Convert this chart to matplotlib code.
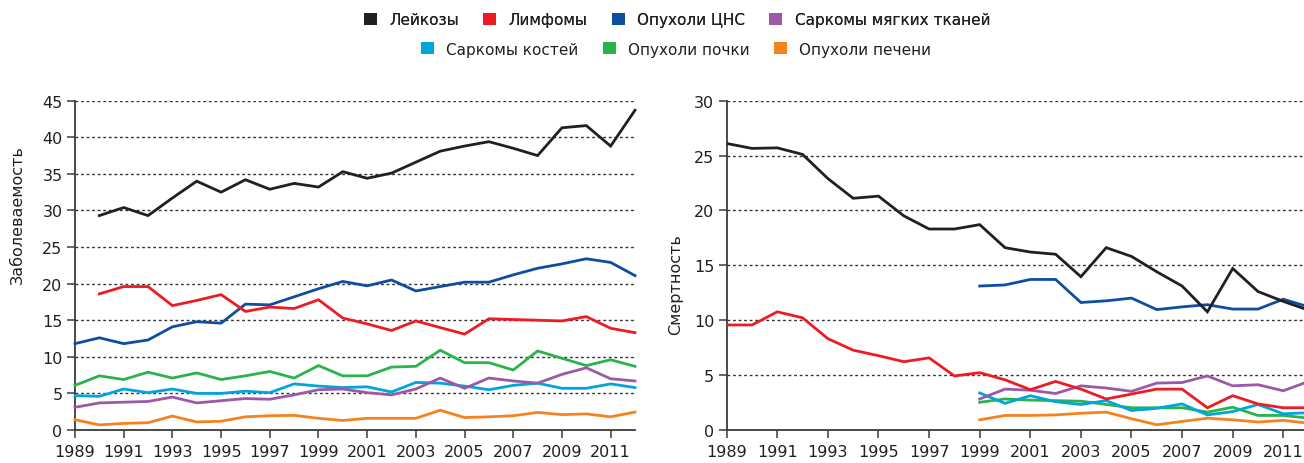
import numpy as np
import matplotlib
matplotlib.use("Agg")
import matplotlib.pyplot as plt
from matplotlib.patches import Patch

nan = np.nan
years = list(range(1989, 2013))
xtick_labels = list(range(1989, 2012, 2))

series_names = ["Лейкозы", "Лимфомы", "Опухоли ЦНС", "Саркомы мягких тканей",
                "Саркомы костей", "Опухоли почки", "Опухоли печени"]
colors = ["#231f20", "#ed1c24", "#0d4ea0", "#9b59a8", "#00a6db", "#2ab24b", "#f5821f"]

# Incidence (left)
leuk_inc = [nan, 29.3, 30.4, 29.3, 31.7, 34.0, 32.5, 34.2, 32.9, 33.7, 33.2, 35.3,
            34.4, 35.1, 36.6, 38.1, 38.8, 39.4, 38.5, 37.5, 41.3, 41.6, 38.8, 43.7]
lymph_inc = [nan, 18.6, 19.6, 19.6, 17.0, 17.7, 18.5, 16.2, 16.8, 16.6, 17.8, 15.3,
             14.5, 13.6, 14.9, 14.0, 13.1, 15.2, 15.1, 15.0, 14.9, 15.5, 13.9, 13.3]
cns_inc = [11.8, 12.6, 11.8, 12.3, 14.1, 14.8, 14.6, 17.2, 17.1, 18.2, 19.3, 20.3,
           19.7, 20.5, 19.0, 19.6, 20.2, 20.2, 21.2, 22.1, 22.7, 23.4, 22.9, 21.1]
sts_inc = [3.1, 3.7, 3.8, 3.9, 4.5, 3.7, 4.0, 4.3, 4.2, 4.8, 5.5, 5.6,
           5.1, 4.8, 5.6, 7.1, 5.7, 7.1, 6.7, 6.4, 7.6, 8.5, 7.0, 6.7]
bone_inc = [4.7, 4.6, 5.6, 5.1, 5.6, 5.0, 5.0, 5.3, 5.1, 6.3, 6.0, 5.8,
            5.9, 5.2, 6.5, 6.4, 6.0, 5.5, 6.1, 6.4, 5.7, 5.7, 6.3, 5.8]
kid_inc = [6.1, 7.4, 6.9, 7.9, 7.1, 7.8, 6.9, 7.4, 8.0, 7.1, 8.8, 7.4,
           7.4, 8.6, 8.7, 10.9, 9.2, 9.2, 8.2, 10.8, 9.8, 8.8, 9.6, 8.7]
liver_inc = [1.4, 0.7, 0.9, 1.0, 1.9, 1.1, 1.2, 1.8, 1.95, 2.0, 1.6, 1.3,
             1.6, 1.6, 1.6, 2.7, 1.7, 1.8, 1.95, 2.4, 2.1, 2.2, 1.8, 2.45]

# Mortality (right)
leuk_mort = [26.1, 25.65, 25.7, 25.1, 22.9, 21.1, 21.3, 19.5, 18.3, 18.3, 18.7, 16.6,
             16.2, 16.0, 13.95, 16.6, 15.8, 14.4, 13.1, 10.75, 14.7, 12.6, 11.7, 10.9]
lymph_mort = [9.55, 9.55, 10.75, 10.2, 8.3, 7.25, 6.75, 6.2, 6.55, 4.9, 5.2, 4.55,
              3.65, 4.4, 3.7, 2.8, 3.25, 3.7, 3.7, 2.0, 3.1, 2.35, 2.0, 2.0]
cns_mort = [nan] * 10 + [13.1, 13.2, 13.7, 13.7, 11.6, 11.75, 12.0, 10.95, 11.2, 11.4, 11.0, 11.0, 11.9, 11.2]
sts_mort = [nan] * 10 + [2.8, 3.7, 3.6, 3.3, 4.0, 3.8, 3.5, 4.25, 4.3, 4.9, 4.0, 4.1, 3.55, 4.4]
bone_mort = [nan] * 10 + [3.35, 2.4, 3.1, 2.55, 2.3, 2.65, 1.75, 1.95, 2.35, 1.35, 1.65, 2.3, 1.45, 1.55]
kid_mort = [nan] * 10 + [2.5, 2.8, 2.7, 2.65, 2.6, 2.3, 2.0, 2.0, 2.0, 1.6, 2.05, 1.3, 1.3, 1.05]
liver_mort = [nan] * 10 + [0.9, 1.3, 1.3, 1.35, 1.5, 1.6, 1.0, 0.45, 0.75, 1.05, 0.9, 0.7, 0.85, 0.6]

inc_series = [leuk_inc, lymph_inc, cns_inc, sts_inc, bone_inc, kid_inc, liver_inc]
mort_series = [leuk_mort, lymph_mort, cns_mort, sts_mort, bone_mort, kid_mort, liver_mort]

plt.rcParams['font.family'] = ['DejaVu Sans']
text_color = "#231f20"

fig = plt.figure(figsize=(13.04, 4.64), dpi=100)
W, H = 1304.0, 464.0

ax1 = fig.add_axes([75 / W, (H - 431) / H, 560 / W, (431 - 101.7) / H])
ax2 = fig.add_axes([726.7 / W, (H - 430.7) / H, (1308.6 - 726.7) / W, (430.7 - 101.7) / H])


def style(ax, ymax, ystep):
    ax.set_xlim(1989, 2012)
    ax.set_ylim(0, ymax)
    ax.set_yticks(np.arange(0, ymax + 0.1, ystep))
    ax.set_xticks(xtick_labels)
    ax.set_xticklabels([str(y) for y in xtick_labels])
    for s in ["top", "right"]:
        ax.spines[s].set_visible(False)
    for s in ["left", "bottom"]:
        ax.spines[s].set_color("#3a3a3a")
        ax.spines[s].set_linewidth(1.3)
    ax.tick_params(axis="both", direction="out", length=6, width=1.1, color="#3a3a3a",
                   labelsize=11.5, labelcolor=text_color)
    ax.tick_params(axis="x", pad=4)
    ax.tick_params(axis="y", pad=3)
    for yv in np.arange(ystep, ymax + 0.1, ystep):
        ax.axhline(yv, color="#333333", lw=1.0, ls=(0, (2, 2)), zorder=1)


for i in range(6, -1, -1):
    ax1.plot(years, inc_series[i], color=colors[i], lw=2.0, zorder=3 + (6 - i) * 0.1,
             solid_joinstyle="miter", clip_on=False)
    ax2.plot(years, mort_series[i], color=colors[i], lw=2.0, zorder=3 + (6 - i) * 0.1,
             solid_joinstyle="miter")

style(ax1, 45, 5)
style(ax2, 30, 5)

fig.text(17 / W, (H - 215) / H, "Заболеваемость", rotation=90, ha="center", va="center",
         fontsize=11.5, color=text_color)
fig.text(676 / W, (H - 285) / H, "Смертность", rotation=90, ha="center", va="center",
         fontsize=11.5, color=text_color)

handles = [Patch(facecolor=c, edgecolor="none") for c in colors]
leg1 = fig.legend(handles[:4], series_names[:4], loc="center", bbox_to_anchor=(677 / W, 1 - 20.7 / H),
                  ncol=4, frameon=False, handlelength=0.85, handleheight=0.85, handletextpad=0.8,
                  columnspacing=1.6, fontsize=11, labelcolor=text_color)
fig.add_artist(leg1)
leg2 = fig.legend(handles[4:], series_names[4:], loc="center", bbox_to_anchor=(676 / W, 1 - 50 / H),
                  ncol=3, frameon=False, handlelength=0.85, handleheight=0.85, handletextpad=0.8,
                  columnspacing=1.6, fontsize=11, labelcolor=text_color)

fig.savefig("out.png", dpi=100)
